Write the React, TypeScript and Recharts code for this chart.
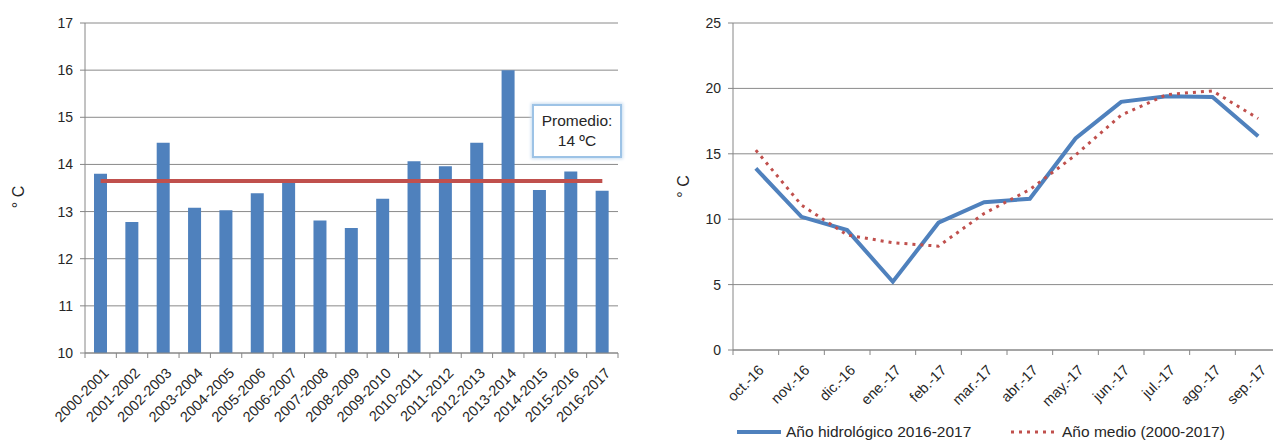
import React from 'react';
import { ComposedChart, Bar, Line, XAxis, YAxis, CartesianGrid } from 'recharts';

const years = [
  '2000-2001', '2001-2002', '2002-2003', '2003-2004', '2004-2005', '2005-2006',
  '2006-2007', '2007-2008', '2008-2009', '2009-2010', '2010-2011', '2011-2012',
  '2012-2013', '2013-2014', '2014-2015', '2015-2016', '2016-2017',
];
const yearTemps = [13.8, 12.78, 14.46, 13.08, 13.03, 13.39, 13.66, 12.81, 12.65, 13.27, 14.07, 13.96, 14.46, 16.0, 13.46, 13.85, 13.44];
const promedioValue = 13.65;
const leftTicks = [10, 11, 12, 13, 14, 15, 16, 17];

const months = ['oct.-16', 'nov.-16', 'dic.-16', 'ene.-17', 'feb.-17', 'mar.-17', 'abr.-17', 'may.-17', 'jun.-17', 'jul.-17', 'ago.-17', 'sep.-17'];
const hidro = [13.88, 10.18, 9.17, 5.22, 9.73, 11.3, 11.56, 16.17, 18.97, 19.4, 19.35, 16.35];
const medio = [15.28, 11.08, 8.79, 8.2, 7.94, 10.44, 12.27, 14.9, 17.95, 19.53, 19.81, 17.7];
const rightTicks = [0, 5, 10, 15, 20, 25];

const leftData = years.map((y, i) => ({ year: y, temp: yearTemps[i], promedio: promedioValue }));
const rightData = months.map((m, i) => ({ month: m, hidro: hidro[i], medio: medio[i] }));

const GRID = '#8a8a8a';
const AXIS = '#868686';
const TEXT = '#262626';
const BLUE = '#4F81BD';
const RED = '#C0504D';
const FONT = '"Liberation Sans", Arial, sans-serif';

const makeCatTick = (fontSize: number) => (props: any) => {
  const { x, y, payload, index, visibleTicksCount, width } = props;
  const band = Number(width) / visibleTicksCount;
  const left = x - band / 2;
  const right = x + band / 2;
  return (
    <g>
      <line x1={left} x2={left} y1={y} y2={y + 5} stroke={AXIS} />
      {index === visibleTicksCount - 1 ? <line x1={right} x2={right} y1={y} y2={y + 5} stroke={AXIS} /> : null}
      <text
        transform={`translate(${x + 9},${y + 21}) rotate(-45)`}
        textAnchor="end"
        fontSize={fontSize}
        fontFamily={FONT}
        fill={TEXT}
      >
        {payload.value}
      </text>
    </g>
  );
};

const yTitle = (dy: number) => (props: any) => {
  const vb = props.viewBox || {};
  const cx = vb.x + 10;
  const cy = vb.y + vb.height / 2 + dy;
  return (
    <text
      transform={`translate(${cx},${cy}) rotate(-90)`}
      textAnchor="middle"
      dominantBaseline="central"
      fontSize={16}
      fontFamily={FONT}
      fill={TEXT}
    >
      ° C
    </text>
  );
};

export default function App() {
  return (
    <div style={{ position: 'absolute', left: 0, top: 0, width: 1273, height: 440, overflow: 'hidden', background: '#fff' }}>
      <div style={{ position: 'absolute', left: 0, top: 0 }}>
        <ComposedChart width={640} height={440} data={leftData} margin={{ top: 23, right: 22, bottom: 0, left: 8 }}>
          <CartesianGrid vertical={false} stroke={GRID} />
          <XAxis
            dataKey="year"
            interval={0}
            tickLine={false}
            tickSize={0}
            tickMargin={0}
            height={87}
            axisLine={{ stroke: AXIS }}
            tick={makeCatTick(14.5)}
          />
          <YAxis
            domain={[10, 17]}
            ticks={leftTicks}
            width={77}
            axisLine={{ stroke: AXIS }}
            tickLine={{ stroke: AXIS }}
            tickSize={5}
            tickMargin={7}
            tick={{ fill: TEXT, fontSize: 14, fontFamily: FONT }}
            label={{ content: yTitle(9) }}
          />
          <Bar dataKey="temp" fill={BLUE} barSize={13} isAnimationActive={false} />
          <Line dataKey="promedio" stroke={RED} strokeWidth={4} dot={false} isAnimationActive={false} />
        </ComposedChart>
      </div>
      <div
        style={{
          position: 'absolute', left: 532, top: 104, width: 86, height: 50,
          border: '2px solid #9DC3E6', boxShadow: '0 0 3px 1px #C9DDF0', background: '#fff',
          fontFamily: FONT, fontSize: 15.5, color: TEXT, textAlign: 'center', lineHeight: '20px',
          display: 'flex', flexDirection: 'column', justifyContent: 'center',
        }}
      >
        <div>Promedio:</div>
        <div>14 ºC</div>
      </div>

      <div style={{ position: 'absolute', left: 640, top: 0 }}>
        <ComposedChart width={641} height={440} data={rightData} margin={{ top: 23, right: 0, bottom: 0, left: 33 }}>
          <CartesianGrid vertical={false} stroke={GRID} />
          <XAxis
            dataKey="month"
            scale="band"
            interval={0}
            tickLine={false}
            tickSize={0}
            tickMargin={0}
            height={90}
            axisLine={{ stroke: AXIS }}
            tick={makeCatTick(14.5)}
          />
          <YAxis
            domain={[0, 25]}
            ticks={rightTicks}
            width={60}
            axisLine={{ stroke: AXIS }}
            tickLine={{ stroke: AXIS }}
            tickSize={5}
            tickMargin={7}
            tick={{ fill: TEXT, fontSize: 14, fontFamily: FONT }}
            label={{ content: yTitle(0) }}
          />
          <Line dataKey="hidro" stroke={BLUE} strokeWidth={4} dot={false} isAnimationActive={false} />
          <Line dataKey="medio" stroke={RED} strokeWidth={3} strokeDasharray="3 5" dot={false} isAnimationActive={false} />
        </ComposedChart>
      </div>

      <div style={{ position: 'absolute', left: 737, top: 422, height: 20, display: 'flex', alignItems: 'center', fontFamily: FONT, fontSize: 15.5, color: TEXT }}>
        <svg width={44} height={6} style={{ marginRight: 5 }}>
          <line x1={0} x2={44} y1={3} y2={3} stroke={BLUE} strokeWidth={4} />
        </svg>
        <span>Año hidrológico 2016-2017</span>
      </div>
      <div style={{ position: 'absolute', left: 1011, top: 422, height: 20, display: 'flex', alignItems: 'center', fontFamily: FONT, fontSize: 15.5, color: TEXT }}>
        <svg width={44} height={6} style={{ marginRight: 7 }}>
          <line x1={0} x2={44} y1={3} y2={3} stroke={RED} strokeWidth={3} strokeDasharray="3 5" />
        </svg>
        <span>Año medio (2000-2017)</span>
      </div>
    </div>
  );
}
